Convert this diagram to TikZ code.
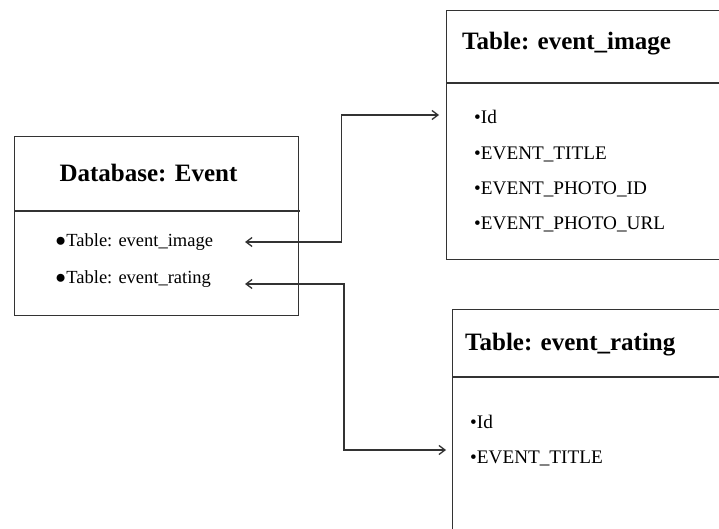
\documentclass[tikz,border=0pt]{standalone}
\usepackage{fontspec}
\setmainfont{Liberation Serif}
\usetikzlibrary{arrows.meta}
\begin{document}
\begin{tikzpicture}[x=1pt,y=-1pt,
  boxline/.style={line width=1.3pt, draw=black!80},
  tbox/.style={boxline, rectangle, inner sep=0pt, anchor=north west},
  conn/.style={line width=1.3pt, draw=black!80,
    {Straight Barb[length=6pt,width=9pt]}-{Straight Barb[length=6pt,width=9pt]}},
  ttl/.style={font=\fontsize{25}{29}\selectfont\bfseries, inner sep=0pt},
  itm/.style={font=\fontsize{18.5}{22}\selectfont, inner sep=0pt, anchor=base west},
  fld/.style={font=\fontsize{19.2}{22}\selectfont, inner sep=0pt, anchor=base west}]
\useasboundingbox (0,0) rectangle (719,529);
\fill[white] (0,0) rectangle (719,529);
\clip (0,0) rectangle (719,529);

% Database box
\node[tbox, minimum width=284pt, minimum height=179pt] (db) at (14,136) {};
\draw[boxline] (14,211) -- (300,211);
\node[ttl, anchor=base] (dbt) at (148.5,181.5) {Database: Event};
\node[itm] (dbi1) at (55,246.5) {●Table: event\_image};
\node[itm] (dbi2) at (55,283) {●Table: event\_rating};

% Table event_image
\node[tbox, minimum width=320pt, minimum height=249pt] (ti) at (446,10) {};
\draw[boxline] (446,83) -- (ti.north east |- 0,83);
\node[ttl, anchor=base west] (tit) at (462,50) {Table: event\_image};
\node[fld] (ti1) at (474,124) {•Id};
\node[fld] (ti2) at (474,160) {•EVENT\_TITLE};
\node[fld] (ti3) at (474,194.5) {•EVENT\_PHOTO\_ID};
\node[fld] (ti4) at (474,229.5) {•EVENT\_PHOTO\_URL};

% Table event_rating
\node[tbox, minimum width=320pt, minimum height=260pt] (tr) at (452,309) {};
\draw[boxline] (452,377) -- (tr.north east |- 0,377);
\node[ttl, anchor=base west] (trt) at (465,350) {Table: event\_rating};
\node[fld] (tr1) at (470,428) {•Id};
\node[fld] (tr2) at (470,463) {•EVENT\_TITLE};

% connectors
\coordinate (a1) at (245,242);
\coordinate (b1) at (439,115);
\coordinate (a2) at (245,284);
\coordinate (b2) at (446,450);
\draw[conn] (a1) -- ++(96.5,0) |- (b1);
\draw[conn] (a2) -- ++(99,0) |- (b2);
\end{tikzpicture}
\end{document}
